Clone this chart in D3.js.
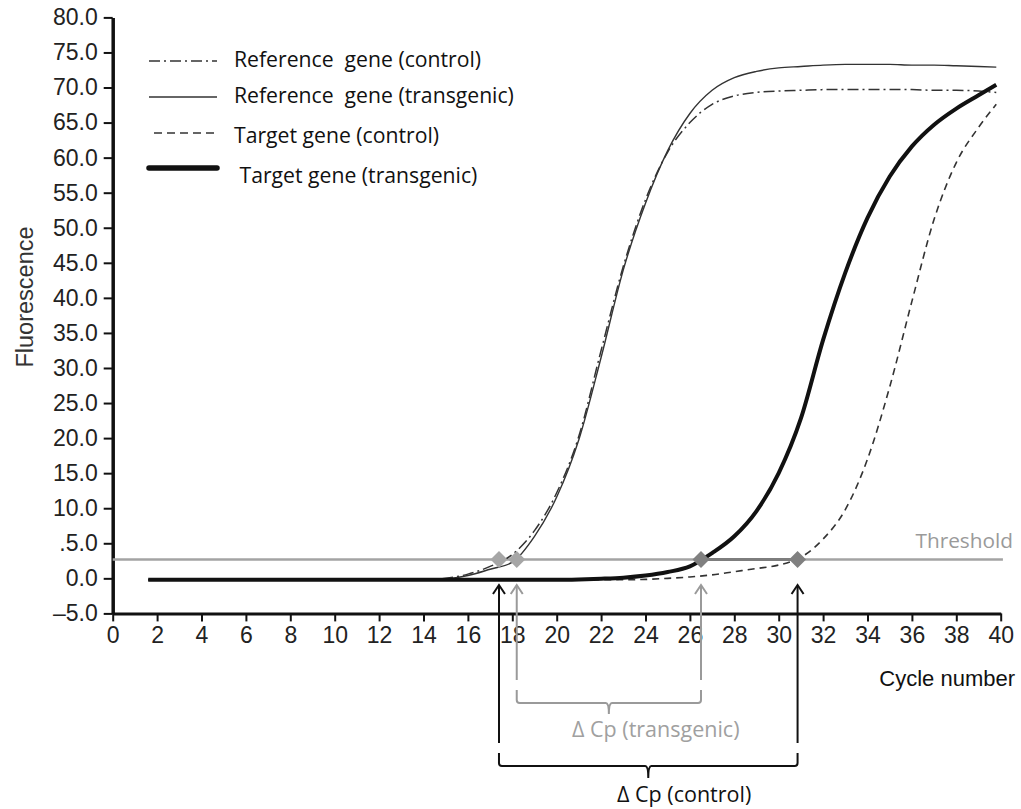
<!DOCTYPE html>
<html>
<head>
<meta charset="utf-8">
<script src="https://cdn.jsdelivr.net/npm/d3@7"></script>
<style>
  html, body { margin: 0; padding: 0; background: #fff; }
  svg { display: block; }
  text { white-space: pre; }
</style>
</head>
<body>
<script>
// PCR cycle numbers at which fluorescence was sampled
const cycles = [1.6, 2, 3, 4, 5, 6, 7, 8, 9, 10, 11, 12, 13, 14, 15, 16, 17, 18, 19, 20,
  21, 22, 23, 24, 25, 26, 27, 28, 29, 30, 31, 32, 33, 34, 35, 36, 37, 38, 39, 39.8];

// Fluorescence readings per series
const refControl = [-0.2, -0.2, -0.2, -0.2, -0.2, -0.2, -0.2, -0.2, -0.2, -0.2, -0.2, -0.2, -0.2, -0.2,
  0.0, 0.6, 1.7, 3.4, 6.8, 12.2, 20.3, 32.5, 44.5, 54.0, 60.8, 65.0, 67.6, 68.8, 69.3, 69.5,
  69.6, 69.7, 69.7, 69.7, 69.7, 69.7, 69.6, 69.6, 69.5, 69.3];
const refTransgenic = [-0.2, -0.2, -0.2, -0.2, -0.2, -0.2, -0.2, -0.2, -0.2, -0.2, -0.2, -0.2, -0.2, -0.2,
  -0.1, 0.4, 1.3, 2.3, 6.0, 11.6, 19.8, 31.5, 44.0, 53.5, 61.0, 66.3, 69.6, 71.4, 72.3, 72.8,
  73.0, 73.2, 73.3, 73.3, 73.3, 73.2, 73.2, 73.1, 73.0, 72.9];
const targetControl = [-0.2, -0.2, -0.2, -0.2, -0.2, -0.2, -0.2, -0.2, -0.2, -0.2, -0.2, -0.2, -0.2, -0.2,
  -0.2, -0.2, -0.2, -0.2, -0.2, -0.2, -0.2, -0.2, -0.2, -0.15, 0.0, 0.2, 0.5, 0.95, 1.4, 1.9,
  3.0, 5.6, 9.8, 17.0, 27.3, 39.5, 51.2, 59.3, 64.3, 67.6];
const targetTransgenic = [-0.2, -0.2, -0.2, -0.2, -0.2, -0.2, -0.2, -0.2, -0.2, -0.2, -0.2, -0.2, -0.2, -0.2,
  -0.2, -0.2, -0.2, -0.2, -0.2, -0.2, -0.15, -0.05, 0.1, 0.4, 0.9, 1.7, 3.6, 6.0, 9.6, 15.0,
  22.8, 34.0, 43.6, 51.4, 57.3, 61.6, 64.7, 67.0, 68.9, 70.4];

// Threshold and crossing points (Cp)
const threshold = 2.7;
const cpNames = ["refControl", "refTransgenic", "targetTransgenic", "targetControl"];
const cpValues = [17.4, 18.2, 26.5, 30.85];

// Axis ticks
const yTicks = [-5, 0, 5, 10, 15, 20, 25, 30, 35, 40, 45, 50, 55, 60, 65, 70, 75, 80];
const yTickLabels = ["\u20135.0", "0.0", ".5.0", "10.0", "15.0", "20.0", "25.0", "30.0", "35.0", "40.0",
  "45.0", "50.0", "55.0", "60.0", "65.0", "70.0", "75.0", "80.0"];
const xTicks = [0, 2, 4, 6, 8, 10, 12, 14, 16, 18, 20, 22, 24, 26, 28, 30, 32, 34, 36, 38, 40];

// Legend
const legendLabels = ["Reference  gene (control)", "Reference  gene (transgenic)",
  "Target gene (control)", " Target gene (transgenic)"];

const W = 1021, H = 809;
const svg = d3.select("body").append("svg").attr("width", W).attr("height", H);

const x = d3.scaleLinear().domain([0, 40]).range([112.7, 1000.7]);
const y = d3.scaleLinear().domain([-5, 80]).range([613.4, 17.4]);

const tickFont = "'Liberation Sans', Arial, sans-serif";
const labelFont = "'Open Sans', 'Noto Sans', sans-serif";

// ---- Axes ----
const yAxis = svg.append("g")
  .attr("transform", `translate(${x(0)},0)`)
  .call(d3.axisLeft(y).tickValues(yTicks).tickFormat((d, i) => yTickLabels[i])
    .tickSize(9).tickSizeOuter(0).tickPadding(6));
yAxis.select(".domain").attr("stroke", "#111").attr("stroke-width", 3.5);
yAxis.selectAll(".tick line").attr("stroke", "#111").attr("stroke-width", 2);
yAxis.selectAll(".tick text").attr("font-family", tickFont).attr("font-size", 23).attr("fill", "#222");

const xAxis = svg.append("g")
  .attr("transform", `translate(0,${y(-5)})`)
  .call(d3.axisBottom(x).tickValues(xTicks).tickFormat(d3.format("d"))
    .tickSize(8).tickSizeOuter(0).tickPadding(5));
xAxis.select(".domain").attr("stroke", "#111").attr("stroke-width", 3);
xAxis.selectAll(".tick line").attr("stroke", "#111").attr("stroke-width", 2);
xAxis.selectAll(".tick text").attr("font-family", tickFont).attr("font-size", 23).attr("fill", "#222");

svg.append("text")
  .attr("transform", "translate(33,297) rotate(-90)")
  .attr("text-anchor", "middle")
  .attr("font-family", tickFont).attr("font-size", 23.5).attr("fill", "#333")
  .text("Fluorescence");

svg.append("text")
  .attr("x", 1015).attr("y", 686)
  .attr("text-anchor", "end")
  .attr("font-family", tickFont).attr("font-size", 22).attr("fill", "#111")
  .text("Cycle number");

// ---- Threshold ----
svg.append("line")
  .attr("x1", x(0)).attr("x2", x(40.1))
  .attr("y1", y(threshold)).attr("y2", y(threshold))
  .attr("stroke", "#a3a3a3").attr("stroke-width", 2.5);
svg.append("line")
  .attr("x1", x(cpValues[2])).attr("x2", x(cpValues[3]))
  .attr("y1", y(threshold)).attr("y2", y(threshold))
  .attr("stroke", "#7d7d7d").attr("stroke-width", 3);
svg.append("text")
  .attr("x", 1013).attr("y", 548)
  .attr("text-anchor", "end")
  .attr("font-family", labelFont).attr("font-size", 20.8).attr("fill", "#9a9a9a")
  .text("Threshold");

// ---- Amplification curves ----
const series = [
  { values: refControl, dash: "11,4,2,4", width: 1.5, color: "#333" },
  { values: refTransgenic, dash: null, width: 1.4, color: "#333" },
  { values: targetControl, dash: "7,5", width: 1.6, color: "#333" },
  { values: targetTransgenic, dash: null, width: 4, color: "#111" }
];
const line = vals => d3.line()
  .x((d, i) => x(cycles[i]))
  .y(d => y(d))
  .curve(d3.curveMonotoneX)(vals);

svg.append("g").selectAll("path").data(series).join("path")
  .attr("d", s => line(s.values))
  .attr("fill", "none")
  .attr("stroke", s => s.color)
  .attr("stroke-width", s => s.width)
  .attr("stroke-dasharray", s => s.dash)
  .attr("stroke-linecap", "butt");

// ---- Cp markers on the threshold ----
const diamond = (cx, cy, r) => `M${cx},${cy - r}L${cx + r},${cy}L${cx},${cy + r}L${cx - r},${cy}Z`;
svg.append("g").selectAll("path").data(cpValues).join("path")
  .attr("d", d => diamond(x(d), y(threshold), 8.5))
  .attr("fill", (d, i) => i < 2 ? "#a6a6a6" : "#808080");

// ---- Cp arrows and ΔCp braces ----
function arrow(xc, yTop, yBottom, color, width) {
  const g = svg.append("g").attr("stroke", color).attr("stroke-width", width).attr("fill", "none");
  g.append("line").attr("x1", xc).attr("x2", xc).attr("y1", yTop + 1).attr("y2", yBottom);
  g.append("path").attr("d", `M${xc - 6},${yTop + 9}L${xc},${yTop}L${xc + 6},${yTop + 9}`)
    .attr("stroke-linejoin", "miter");
}
function brace(x1, x2, yEnd, yBar, yTip, color) {
  const mid = (x1 + x2) / 2;
  const r = 3;
  svg.append("path")
    .attr("d", `M${x1},${yEnd}V${yBar - r}Q${x1},${yBar} ${x1 + r},${yBar}` +
      `H${mid - r}Q${mid},${yBar} ${mid},${yTip}Q${mid},${yBar} ${mid + r},${yBar}` +
      `H${x2 - r}Q${x2},${yBar} ${x2},${yBar - r}V${yEnd}`)
    .attr("fill", "none").attr("stroke", color).attr("stroke-width", 2);
}

const arrowTop = 585;
arrow(x(cpValues[0]), arrowTop, 743, "#111", 2);
arrow(x(cpValues[3]), arrowTop, 743, "#111", 2);
arrow(x(cpValues[1]), arrowTop, 680, "#9a9a9a", 2);
arrow(x(cpValues[2]), arrowTop, 680, "#9a9a9a", 2);

brace(x(cpValues[1]), x(cpValues[2]), 690, 703, 714, "#9a9a9a");
brace(x(cpValues[0]), x(cpValues[3]), 753, 766, 778, "#111");

svg.append("text")
  .attr("x", 572).attr("y", 737)
  .attr("font-family", labelFont).attr("font-size", 21.5).attr("fill", "#a0a0a0")
  .text("\u0394 Cp (transgenic)");
svg.append("text")
  .attr("x", 617).attr("y", 802)
  .attr("font-family", labelFont).attr("font-size", 21.5).attr("fill", "#111")
  .text("\u0394 Cp (control)");

// ---- Legend ----
const legendLineY = [61, 97, 133, 168];
const legendTextY = [67, 103, 143, 183];
const lg = svg.append("g");
legendLineY.forEach((ly, i) => {
  const s = series[i];
  lg.append("line")
    .attr("x1", i === 2 ? 154 : 149).attr("x2", 217)
    .attr("y1", ly).attr("y2", ly)
    .attr("stroke", s.color)
    .attr("stroke-width", i === 3 ? 5.5 : 1.6)
    .attr("stroke-linecap", i === 3 ? "round" : "butt")
    .attr("stroke-dasharray", i === 0 ? "11,4,2,4" : (i === 2 ? "8,5" : null));
  lg.append("text")
    .attr("x", 234).attr("y", legendTextY[i])
    .attr("font-family", labelFont).attr("font-size", 21.2).attr("fill", "#111")
    .text(legendLabels[i]);
});
</script>
</body>
</html>
